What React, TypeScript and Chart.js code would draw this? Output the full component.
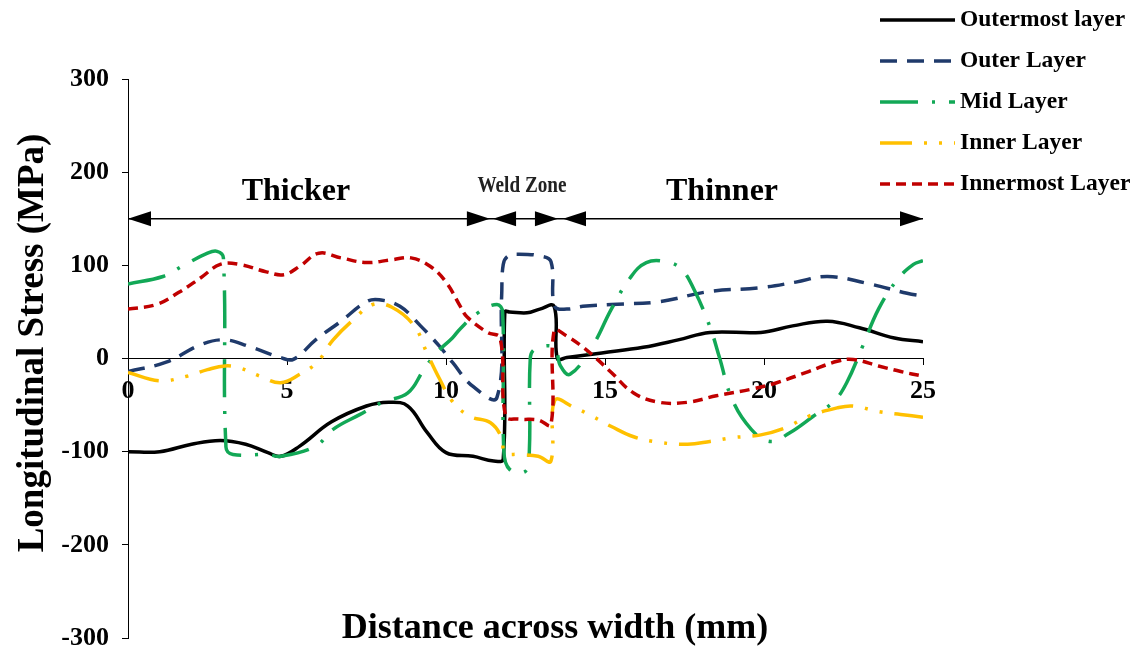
import React, { useEffect, useRef } from 'react';
import { Chart, registerables } from 'chart.js';

Chart.register(...registerables);

const FONT = "'Liberation Serif', 'Times New Roman', serif";

// ---- data (x: distance across width in mm, y: longitudinal stress in MPa) ----
const outermostLayer: [number, number][] = [
  [0, -100], [1.0, -100], [2.0, -92], [2.9, -88], [3.7, -92], [4.4, -101], [4.8, -105],
  [5.4, -94], [6.4, -68], [7.5, -51], [8.2, -47], [8.8, -51], [9.4, -79], [10.0, -101],
  [10.85, -105], [11.5, -110], [11.8, -108], [11.85, 50], [12.0, 50], [12.55, 49],
  [12.95, 53], [13.4, 56], [13.5, 0], [13.8, 1], [14.9, 6], [16.2, 12], [17.3, 20],
  [18.3, 28], [19.9, 28], [20.9, 35], [22.0, 40], [23.0, 33], [24.1, 22], [25, 18],
];

const outerLayer: [number, number][] = [
  [0, -14], [1.2, -4], [2.3, 15], [3.05, 20], [3.8, 13], [4.8, 1], [5.2, -1], [5.9, 20],
  [6.7, 40], [7.5, 61], [7.9, 63], [8.55, 56], [9.2, 35], [9.8, 13], [10.2, -4],
  [10.85, -30], [11.6, -42], [11.75, 67], [11.8, 101], [11.95, 110], [12.3, 112],
  [12.95, 110], [13.3, 104], [13.42, 56], [13.8, 53], [14.3, 56], [15.2, 58], [16.7, 61],
  [18.3, 72], [19.9, 76], [21.0, 82], [22.0, 88], [23.2, 81], [24.5, 70], [25, 67],
];

const midLayer: [number, number][] = [
  [0, 80], [1.1, 88], [1.7, 99], [2.5, 113], [2.8, 115], [3.0, 108], [3.08, -95],
  [3.3, -103], [4.4, -103], [4.8, -105], [5.9, -94], [6.45, -76], [7.3, -60], [8.0, -47],
  [8.8, -37], [9.3, -12], [9.7, 6], [10.2, 22], [10.45, 32], [11.0, 49], [11.6, 58],
  [11.78, 50], [11.82, -100], [12.0, -119], [12.5, -121], [12.62, -100], [12.65, 0],
  [12.8, 10], [13.4, 12], [13.6, -8], [13.9, -17], [14.6, 13], [15.2, 53], [15.8, 87],
  [16.3, 103], [16.9, 104], [17.4, 96], [17.8, 74], [18.3, 34], [18.6, 1], [19.0, -44],
  [19.6, -76], [20.2, -89], [20.8, -80], [21.55, -62], [22.2, -46], [22.6, -26],
  [23.1, 13], [23.6, 53], [24.2, 85], [24.7, 101], [25, 105],
];

const innerLayer: [number, number][] = [
  [0, -15], [1.0, -24], [1.85, -19], [2.5, -12], [3.05, -8], [3.5, -10], [4.15, -19],
  [4.8, -26], [5.4, -17], [5.95, -4], [6.45, 20], [7.1, 42], [7.7, 58], [8.3, 55],
  [9.0, 35], [9.4, 6], [9.8, -22], [10.2, -46], [10.75, -62], [11.4, -69], [11.75, -85],
  [11.85, -101], [12.3, -103], [12.9, -105], [13.3, -110], [13.42, -45], [14.0, -52],
  [14.6, -62], [15.2, -73], [15.9, -84], [16.7, -90], [17.6, -92], [18.3, -89],
  [19.0, -85], [19.9, -82], [20.7, -74], [21.4, -62], [22.3, -53], [22.8, -51],
  [23.6, -57], [24.3, -60], [25, -63],
];

const innermostLayer: [number, number][] = [
  [0, 53], [0.9, 58], [1.6, 71], [2.3, 87], [2.9, 101], [3.5, 101], [4.35, 93], [4.9, 90],
  [5.4, 99], [6.0, 113], [6.7, 108], [7.5, 103], [8.3, 106], [8.9, 108], [9.5, 99],
  [10.0, 82], [10.45, 56], [10.65, 45], [11.3, 28], [11.7, 22], [11.88, -62], [12.3, -65],
  [12.9, -66], [13.3, -71], [13.4, 30], [13.8, 24], [14.2, 15], [14.6, 4], [15.2, -15],
  [15.9, -37], [16.7, -47], [17.6, -47], [18.5, -40], [19.6, -33], [20.4, -26],
  [21.4, -14], [22.3, -3], [22.8, -1], [23.6, -8], [24.3, -14], [25, -19],
];

const seriesLabels = ['Outermost layer', 'Outer Layer', 'Mid Layer', 'Inner Layer', 'Innermost Layer'];
const seriesData = [outermostLayer, outerLayer, midLayer, innerLayer, innermostLayer];

// axis
const xMin = 0;
const xMax = 25;
const xStep = 5;
const yMin = -300;
const yMax = 300;
const yStep = 100;
const xTitle = 'Distance across width (mm)';
const yTitle = 'Longitudinal Stress (MPa)';

// zone annotations
const zoneLabels = ['Thicker', 'Weld Zone', 'Thinner'];
const zoneStarts = [0, 11.48, 13.68];
const zoneEnds = [11.38, 13.52, 25];
const zoneLabelX = [5.28, 12.39, 18.68];
const zoneLabelY = [170, 179, 170];
const zoneArrowY = 150;

// styles
const seriesColors = ['#000000', '#1F3A6B', '#12A856', '#FFC000', '#C00000'];
const seriesDashes = [[], [17, 10], [38, 14, 3, 14], [32, 12, 3, 12, 3, 12], [10, 6]];
const seriesWidths = [3.5, 3.5, 3.5, 3.5, 3.5];

const overlayPlugin = {
  id: 'overlay',
  afterDraw(chart: any) {
    const ctx: CanvasRenderingContext2D = chart.ctx;
    const xs = chart.scales.x;
    const ys = chart.scales.y;
    ctx.save();

    // zone arrows
    const ay = ys.getPixelForValue(zoneArrowY);
    ctx.strokeStyle = '#000';
    ctx.fillStyle = '#000';
    ctx.lineWidth = 1.5;
    ctx.setLineDash([]);
    ctx.beginPath();
    ctx.moveTo(xs.getPixelForValue(xMin), ay);
    ctx.lineTo(xs.getPixelForValue(xMax), ay);
    ctx.stroke();
    const head = (tip: number, dir: number) => {
      ctx.beginPath();
      ctx.moveTo(tip, ay);
      ctx.lineTo(tip - dir * 23, ay - 7.5);
      ctx.lineTo(tip - dir * 23, ay + 7.5);
      ctx.closePath();
      ctx.fill();
    };
    zoneLabels.forEach((label, i) => {
      head(xs.getPixelForValue(zoneStarts[i]), -1);
      head(xs.getPixelForValue(zoneEnds[i]), 1);
      const tx = xs.getPixelForValue(zoneLabelX[i]);
      const ty = ys.getPixelForValue(zoneLabelY[i]);
      ctx.textAlign = 'center';
      ctx.textBaseline = 'alphabetic';
      if (label === 'Weld Zone') {
        ctx.save();
        ctx.translate(tx, ty);
        ctx.scale(0.8, 1);
        ctx.font = `bold 24px ${FONT}`;
        ctx.fillStyle = '#222';
        ctx.fillText(label, 0, 0);
        ctx.restore();
      } else {
        ctx.font = `bold 32px ${FONT}`;
        ctx.fillText(label, tx, ty);
      }
    });

    // legend
    const legX0 = 880;
    const legX1 = 955;
    const legTextX = 960;
    const legY0 = 20;
    const legDy = 41;
    seriesLabels.forEach((label, i) => {
      const y = legY0 + i * legDy;
      ctx.strokeStyle = seriesColors[i];
      ctx.lineWidth = seriesWidths[i];
      ctx.setLineDash(seriesDashes[i]);
      ctx.beginPath();
      ctx.moveTo(legX0, y);
      ctx.lineTo(legX1, y);
      ctx.stroke();
      ctx.setLineDash([]);
      ctx.fillStyle = '#000';
      ctx.font = `bold 23.5px ${FONT}`;
      ctx.textAlign = 'left';
      ctx.textBaseline = 'middle';
      ctx.fillText(label, legTextX, y);
    });

    // axis titles
    ctx.fillStyle = '#000';
    ctx.font = `bold 36px ${FONT}`;
    ctx.textAlign = 'center';
    ctx.textBaseline = 'alphabetic';
    ctx.fillText(xTitle, 555, 638);

    ctx.save();
    ctx.translate(43, 343);
    ctx.rotate(-Math.PI / 2);
    ctx.font = `bold 37px ${FONT}`;
    ctx.textAlign = 'center';
    ctx.textBaseline = 'alphabetic';
    ctx.fillText(yTitle, 0, 0);
    ctx.restore();

    ctx.restore();
  },
};

export default function App() {
  const ref = useRef<HTMLCanvasElement | null>(null);

  useEffect(() => {
    if (!ref.current) return;
    const tickFont = { family: FONT, size: 26, weight: 'bold' as const };
    const chart = new Chart(ref.current, {
      type: 'line',
      data: {
        datasets: seriesData.map((d, i) => ({
          label: seriesLabels[i],
          data: d.map(([x, y]) => ({ x, y })),
          borderColor: seriesColors[i],
          borderWidth: seriesWidths[i],
          borderDash: seriesDashes[i],
          borderCapStyle: 'butt' as const,
          pointRadius: 0,
          tension: 0.4,
          fill: false,
          order: 5 - i,
        })),
      },
      options: {
        animation: false,
        responsive: false,
        maintainAspectRatio: false,
        layout: { padding: { left: 0, right: 216, top: 79, bottom: 12 } },
        plugins: { legend: { display: false }, tooltip: { enabled: false }, title: { display: false } },
        scales: {
          x: {
            type: 'linear',
            position: { y: 0 } as any,
            min: xMin,
            max: xMax,
            ticks: { stepSize: xStep, font: tickFont, color: '#000', padding: 11, maxRotation: 0 },
            grid: { drawOnChartArea: false, tickLength: 6, color: '#000', lineWidth: 1 },
            border: { color: '#000', width: 1 },
            afterFit: (scale: any) => {
              scale.paddingLeft = 0;
              scale.paddingRight = 0;
              scale.paddingTop = 0;
              scale.paddingBottom = 0;
            },
          },
          y: {
            type: 'linear',
            min: yMin,
            max: yMax,
            ticks: { stepSize: yStep, font: tickFont, color: '#000', padding: 13 },
            grid: { drawOnChartArea: false, tickLength: 6, color: '#000', lineWidth: 1 },
            border: { color: '#000', width: 1 },
            afterFit: (scale: any) => {
              scale.width = 128;
              scale.paddingTop = 0;
              scale.paddingBottom = 0;
            },
          },
        },
      },
      plugins: [overlayPlugin],
    });
    return () => chart.destroy();
  }, []);

  return (
    <div style={{ position: 'fixed', left: 0, top: 0, width: 1139, height: 650, background: '#fff' }}>
      <canvas ref={ref} width={1139} height={650} style={{ width: 1139, height: 650, display: 'block' }} />
    </div>
  );
}
